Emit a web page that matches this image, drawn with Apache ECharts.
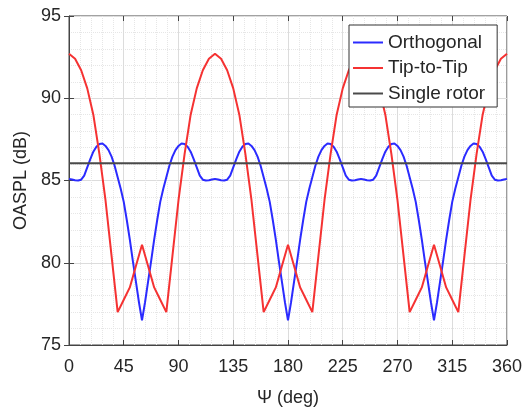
<!DOCTYPE html>
<html>
<head>
<meta charset="utf-8">
<script src="https://cdn.jsdelivr.net/npm/echarts@6/dist/echarts.min.js"></script>
<style>
html,body{margin:0;padding:0;background:#fff;}
#chart{width:525px;height:412px;}
</style>
</head>
<body>
<div id="chart"></div>
<script>
// Azimuth samples (deg)
const psiFine = [0,2.5,5,7.5,10,12.5,15,17.5,20,22.5,25,27.5,30,32.5,35,37.5,40,42.5,45,47.5,50,52.5,55,57.5,
  60,62.5,65,67.5,70,72.5,75,77.5,80,82.5,85,87.5,90,92.5,95,97.5,100,102.5,105,107.5,110,112.5,115,117.5,
  120,122.5,125,127.5,130,132.5,135,137.5,140,142.5,145,147.5,150,152.5,155,157.5,160,162.5,165,167.5,170,172.5,175,177.5,
  180,182.5,185,187.5,190,192.5,195,197.5,200,202.5,205,207.5,210,212.5,215,217.5,220,222.5,225,227.5,230,232.5,235,237.5,
  240,242.5,245,247.5,250,252.5,255,257.5,260,262.5,265,267.5,270,272.5,275,277.5,280,282.5,285,287.5,290,292.5,295,297.5,
  300,302.5,305,307.5,310,312.5,315,317.5,320,322.5,325,327.5,330,332.5,335,337.5,340,342.5,345,347.5,350,352.5,355,357.5,360];

const psi = [0,5,10,15,20,25,30,35,40,45,50,55,60,65,70,75,80,85,90,95,100,105,110,115,
  120,125,130,135,140,145,150,155,160,165,170,175,180,185,190,195,200,205,210,215,220,225,230,235,
  240,245,250,255,260,265,270,275,280,285,290,295,300,305,310,315,320,325,330,335,340,345,350,355,360];

// OASPL (dB), Orthogonal configuration (sampled on psiFine)
const orthogonal = [
  85.1,85.06,85.02,85.0,85.05,85.3,85.8,86.3,86.75,87.05,87.22,87.25,87.1,86.85,86.45,85.9,85.2,84.5,83.7,82.6,81.4,80.1,78.85,77.6,
  76.5,77.6,78.85,80.1,81.4,82.6,83.7,84.5,85.2,85.9,86.45,86.85,87.1,87.25,87.22,87.05,86.75,86.3,85.8,85.3,85.05,85.0,85.02,85.06,
  85.1,85.06,85.02,85.0,85.05,85.3,85.8,86.3,86.75,87.05,87.22,87.25,87.1,86.85,86.45,85.9,85.2,84.5,83.7,82.6,81.4,80.1,78.85,77.6,
  76.5,77.6,78.85,80.1,81.4,82.6,83.7,84.5,85.2,85.9,86.45,86.85,87.1,87.25,87.22,87.05,86.75,86.3,85.8,85.3,85.05,85.0,85.02,85.06,
  85.1,85.06,85.02,85.0,85.05,85.3,85.8,86.3,86.75,87.05,87.22,87.25,87.1,86.85,86.45,85.9,85.2,84.5,83.7,82.6,81.4,80.1,78.85,77.6,
  76.5,77.6,78.85,80.1,81.4,82.6,83.7,84.5,85.2,85.9,86.45,86.85,87.1,87.25,87.22,87.05,86.75,86.3,85.8,85.3,85.05,85.0,85.02,85.06,
  85.1];

// OASPL (dB), Tip-to-Tip configuration (sampled on psi)
const tipToTip = [92.7,92.4,91.7,90.6,89.0,86.6,83.8,80.4,77.0,77.75,78.5,79.8,81.1,79.8,78.5,77.75,77.0,80.4,83.8,86.6,89.0,90.6,91.7,92.4,
  92.7,92.4,91.7,90.6,89.0,86.6,83.8,80.4,77.0,77.75,78.5,79.8,81.1,79.8,78.5,77.75,77.0,80.4,83.8,86.6,89.0,90.6,91.7,92.4,
  92.7,92.4,91.7,90.6,89.0,86.6,83.8,80.4,77.0,77.75,78.5,79.8,81.1,79.8,78.5,77.75,77.0,80.4,83.8,86.6,89.0,90.6,91.7,92.4,
  92.7];

const singleX = [0, 360];
const singleRotor = [86.05, 86.05];

const names = ['Orthogonal', 'Tip-to-Tip', 'Single rotor'];

const font = '"Liberation Sans", Arial, sans-serif';
const axisColor = '#444';
const textColor = '#262626';

function pairs(xs, ys){ return xs.map((x,i)=>[x, ys[i]]); }

const chart = echarts.init(document.getElementById('chart'), null, {renderer:'canvas'});
chart.setOption({
  animation: false,
  backgroundColor: '#fff',
  textStyle: {fontFamily: font},
  grid: {left: 69, right: 18, top: 16, bottom: 67, show: true, borderColor: axisColor, borderWidth: 1, backgroundColor: 'transparent'},
  legend: {
    orient: 'vertical', left: 349, top: 25,
    backgroundColor: '#fff', borderColor: '#333', borderWidth: 1,
    padding: [7, 12, 3, 4],
    icon: 'rect',
    itemWidth: 30, itemHeight: 2, itemGap: 4.5,
    textStyle: {fontSize: 19, color: textColor, fontFamily: font, lineHeight: 21},
    data: names
  },
  xAxis: [{
    type: 'value', min: 0, max: 360, interval: 45,
    name: 'Ψ (deg)', nameLocation: 'middle', nameGap: 44,
    nameTextStyle: {fontSize: 18, color: textColor, fontFamily: font},
    axisLine: {show: true, lineStyle: {color: axisColor}},
    axisTick: {show: true, inside: true, length: 5, lineStyle: {color: axisColor}},
    axisLabel: {fontSize: 18, color: textColor, margin: 13, fontFamily: font},
    splitLine: {show: true, lineStyle: {color: '#dcdcdc'}},
    minorTick: {show: true, splitNumber: 5, length: 0},
    minorSplitLine: {show: true, lineStyle: {color: '#e6e6e6', type: 'dotted'}}
  }, {
    type: 'value', position: 'top', min: 0, max: 360, interval: 45,
    axisLine: {show: false}, axisLabel: {show: false}, splitLine: {show: false},
    axisTick: {show: true, inside: true, length: 5, lineStyle: {color: axisColor}}
  }],
  yAxis: [{
    type: 'value', min: 75, max: 95, interval: 5,
    name: 'OASPL (dB)', nameLocation: 'middle', nameGap: 38,
    nameTextStyle: {fontSize: 18, color: textColor, fontFamily: font},
    axisLine: {show: true, lineStyle: {color: axisColor}},
    axisTick: {show: true, inside: true, length: 5, lineStyle: {color: axisColor}},
    axisLabel: {fontSize: 18, color: textColor, margin: 8, fontFamily: font},
    splitLine: {show: true, lineStyle: {color: '#dcdcdc'}},
    minorTick: {show: true, splitNumber: 5, length: 0},
    minorSplitLine: {show: true, lineStyle: {color: '#e6e6e6', type: 'dotted'}}
  }, {
    type: 'value', position: 'right', min: 75, max: 95, interval: 5,
    axisLine: {show: false}, axisLabel: {show: false}, splitLine: {show: false},
    axisTick: {show: true, inside: true, length: 5, lineStyle: {color: axisColor}}
  }],
  series: [
    {name: names[0], type: 'line', data: pairs(psiFine, orthogonal), symbol: 'none', smooth: false,
     lineStyle: {color: '#2b2bff', width: 2}, itemStyle: {color: '#2b2bff'}},
    {name: names[1], type: 'line', data: pairs(psi, tipToTip), symbol: 'none', smooth: false,
     lineStyle: {color: '#f53232', width: 2}, itemStyle: {color: '#f53232'}},
    {name: names[2], type: 'line', data: pairs(singleX, singleRotor), symbol: 'none',
     lineStyle: {color: '#4a4a4a', width: 2}, itemStyle: {color: '#4a4a4a'}}
  ]
});
</script>
</body>
</html>
